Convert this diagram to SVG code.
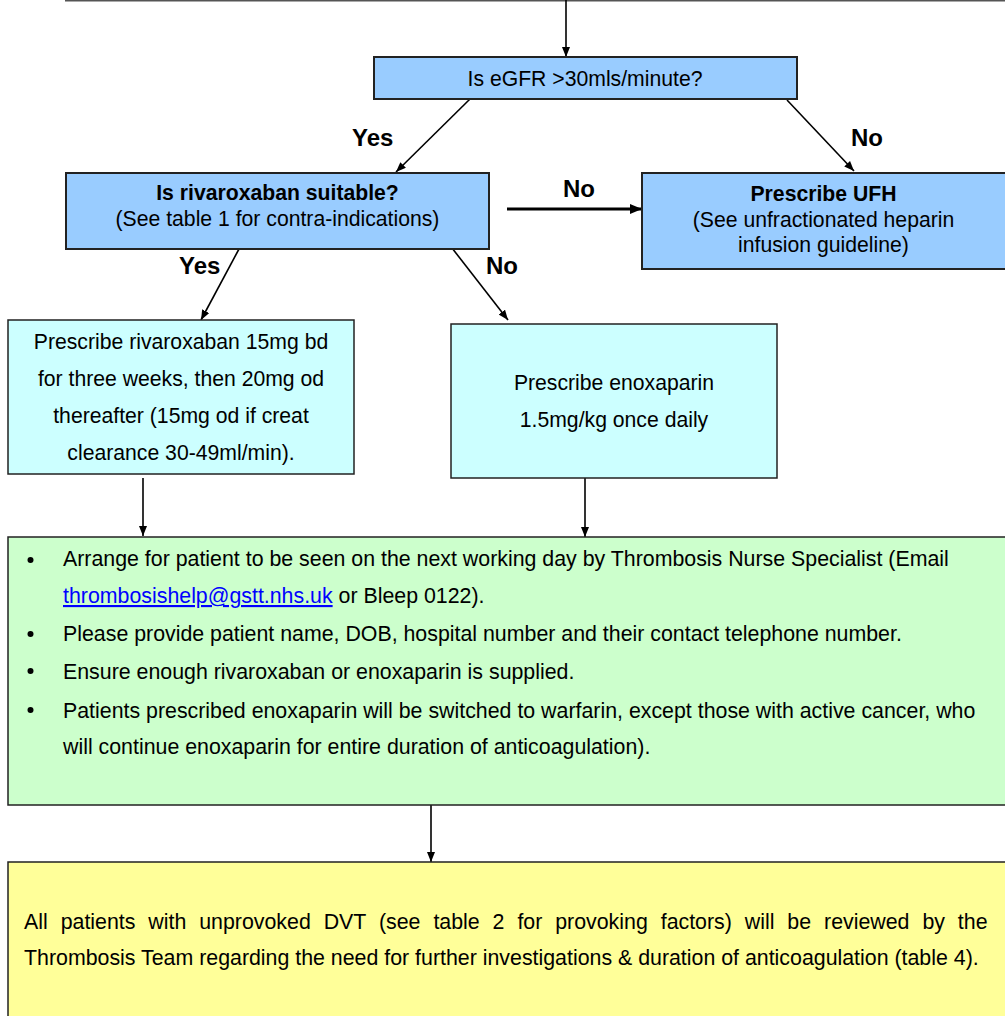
<svg xmlns="http://www.w3.org/2000/svg" width="1005" height="1016" viewBox="0 0 1005 1016">
<defs>
<marker id="ah" markerWidth="10" markerHeight="8" refX="10" refY="4" orient="auto" markerUnits="userSpaceOnUse">
<path d="M0,0 L10,4 L0,8 z" fill="#000"/>
</marker>
<marker id="ah2" markerWidth="12" markerHeight="10" refX="12" refY="5" orient="auto" markerUnits="userSpaceOnUse">
<path d="M0,0 L12,5 L0,10 z" fill="#000"/>
</marker>
<style>
text{font-family:"Liberation Sans",Arial,sans-serif;fill:#000;}
.t{font-size:21.2px;}
.g{font-size:21.35px;}
.c{text-anchor:middle;}
.b{font-weight:bold;}
.lbl{font-size:24px;font-weight:bold;}
.blue{fill:#99CCFF;stroke:#222;stroke-width:2;}
.cyan{fill:#CCFFFF;stroke:#222;stroke-width:1.5;}
.green{fill:#CCFFCC;stroke:#222;stroke-width:1.5;}
.yellow{fill:#FFFF99;stroke:#222;stroke-width:1.5;}
.con line{stroke:#000;stroke-width:1.6;marker-end:url(#ah);}
.link{fill:#0000FF;text-decoration:underline;}
</style>
</defs>
<rect width="1005" height="1016" fill="#fff"/>
<line x1="65" y1="0.5" x2="1005" y2="0.5" stroke="#555" stroke-width="2"/>

<g id="connectors" class="con">
<line x1="566" y1="0" x2="566" y2="57"/>
<line x1="470" y1="99" x2="396" y2="172"/>
<line x1="787" y1="100" x2="854" y2="171"/>
<line x1="507" y1="209" x2="642" y2="209" style="stroke-width:3;marker-end:url(#ah2)"/>
<line x1="239" y1="249" x2="201" y2="320"/>
<line x1="452" y1="248" x2="508" y2="320"/>
<line x1="143" y1="478" x2="143" y2="536"/>
<line x1="585" y1="478" x2="585" y2="537"/>
<line x1="431" y1="805" x2="431" y2="862"/>
</g>

<g id="labels">
<text class="lbl" x="352" y="146">Yes</text>
<text class="lbl" x="851" y="146">No</text>
<text class="lbl" x="563" y="197">No</text>
<text class="lbl" x="179" y="274">Yes</text>
<text class="lbl" x="486" y="274">No</text>
</g>

<g id="egfr">
<rect class="blue" x="374" y="57" width="423" height="42"/>
<text class="t c" x="585" y="86">Is eGFR &gt;30mls/minute?</text>
</g>

<g id="rivaroxaban-suitable">
<rect class="blue" x="66" y="173" width="423" height="76"/>
<text class="t c b" x="277.5" y="200">Is rivaroxaban suitable?</text>
<text class="t c" x="277.5" y="226">(See table 1 for contra-indications)</text>
</g>

<g id="ufh">
<rect class="blue" x="642" y="173" width="370" height="96"/>
<text class="t c b" x="823.5" y="201">Prescribe UFH</text>
<text class="t c" x="823.5" y="227">(See unfractionated heparin</text>
<text class="t c" x="823.5" y="252">infusion guideline)</text>
</g>

<g id="rivaroxaban-dose">
<rect class="cyan" x="8" y="320" width="346" height="154"/>
<text class="t c" x="181" y="349">Prescribe rivaroxaban 15mg bd</text>
<text class="t c" x="181" y="386">for three weeks, then 20mg od</text>
<text class="t c" x="181" y="423">thereafter (15mg od if creat</text>
<text class="t c" x="181" y="460">clearance 30-49ml/min).</text>
</g>

<g id="enoxaparin">
<rect class="cyan" x="451" y="324" width="326" height="154"/>
<text class="t c" x="614" y="390">Prescribe enoxaparin</text>
<text class="t c" x="614" y="427">1.5mg/kg once daily</text>
</g>

<g id="followup">
<rect class="green" x="8" y="537" width="1010" height="268"/>
<circle cx="30.5" cy="560" r="3"/>
<circle cx="30.5" cy="634" r="3"/>
<circle cx="30.5" cy="671" r="3"/>
<circle cx="30.5" cy="710" r="3"/>
<text class="g" x="63" y="566">Arrange for patient to be seen on the next working day by Thrombosis Nurse Specialist (Email</text>
<text class="g" x="63" y="603"><tspan class="link">thrombosishelp@gstt.nhs.uk</tspan> or Bleep 0122).</text>
<text class="g" x="63" y="641">Please provide patient name, DOB, hospital number and their contact telephone number.</text>
<text class="g" x="63" y="679">Ensure enough rivaroxaban or enoxaparin is supplied.</text>
<text class="g" x="63" y="718">Patients prescribed enoxaparin will be switched to warfarin, except those with active cancer, who</text>
<text class="g" x="63" y="754">will continue enoxaparin for entire duration of anticoagulation).</text>
</g>

<g id="review">
<rect class="yellow" x="8" y="862" width="1010" height="170"/>
<text class="g" x="24" y="928.5" style="word-spacing:7px">All patients with unprovoked DVT (see table 2 for provoking factors) will be reviewed by the</text>
<text class="g" x="24" y="964.5">Thrombosis Team regarding the need for further investigations &amp; duration of anticoagulation (table 4).</text>
</g>
</svg>
